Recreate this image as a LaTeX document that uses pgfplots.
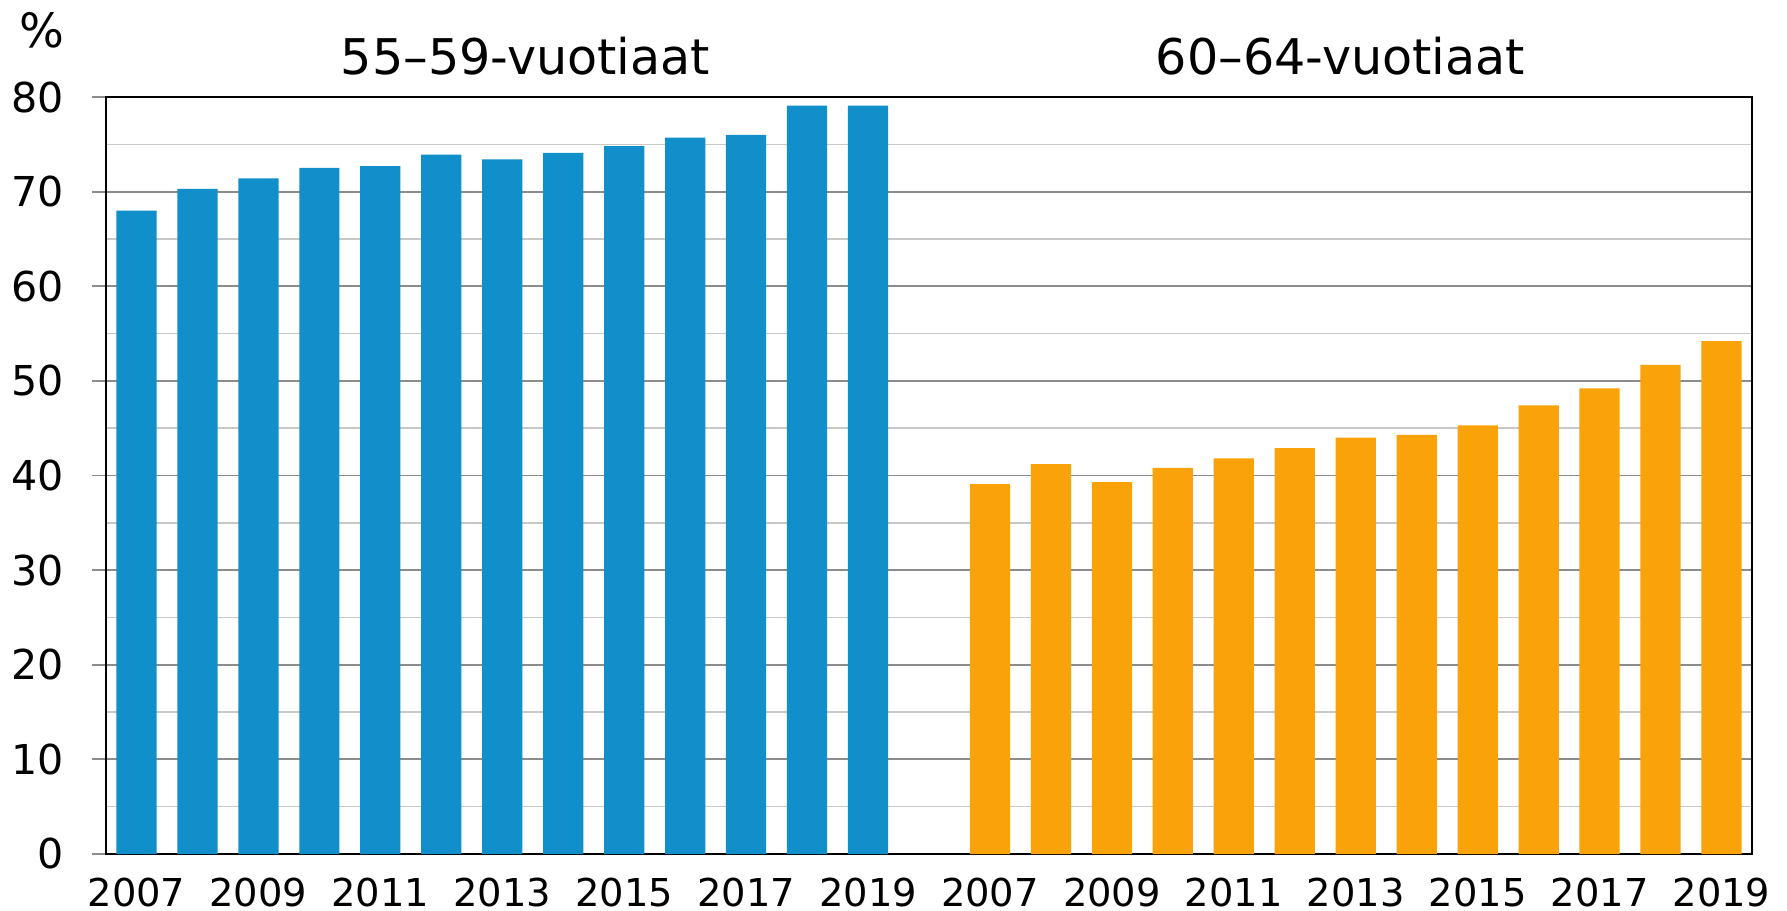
\documentclass[border=0pt]{standalone}
\usepackage{fontspec}
\setmainfont{DejaVu Sans}
\usepackage{pgfplots}
\pgfplotsset{compat=1.18}
\definecolor{barblue}{HTML}{108FCB}
\definecolor{barorange}{HTML}{F9A20A}
\definecolor{majgrid}{HTML}{8C8C8C}
\definecolor{mingrid}{HTML}{C8C8C8}
\begin{document}
\begin{tikzpicture}
\begin{axis}[
 name=ax, at={(0,0)}, anchor=south west,
 scale only axis, width=411.5pt, height=189.25pt,
 xmin=-0.5, xmax=26.5, ymin=0, ymax=80,
 /pgf/number format/assume math mode=true,
 ytick={0,10,20,30,40,50,60,70,80},
 minor ytick={5,15,25,35,45,55,65,75},
 ymajorgrids, yminorgrids,
 major grid style={majgrid, line width=0.45pt},
 minor grid style={mingrid, line width=0.4pt},
 xtick={0,2,4,6,8,10,12,14,16,18,20,22,24,26},
 xticklabels={2007,2009,2011,2013,2015,2017,2019,2007,2009,2011,2013,2015,2017,2019},
 x tick style={draw=none},
 ytick pos=left, ytick align=outside, major tick length=3.5pt, minor tick length=0pt,
 y tick style={majgrid, line width=0.45pt},
 xticklabel style={font=\fontsize{9.6}{11}\selectfont, yshift=-2.5pt},
 yticklabel style={font=\fontsize{10.3}{12}\selectfont, xshift=-3.5pt},
 axis line style={black, line width=0.6pt},
 clip=false,
]
\addplot[ybar, bar width=0.66, bar shift=0pt, fill=barblue, draw=none] coordinates {(0,68.0) (1,70.3) (2,71.4) (3,72.5) (4,72.7) (5,73.9) (6,73.4) (7,74.1) (8,74.8) (9,75.7) (10,76.0) (11,79.1) (12,79.1)};
\addplot[ybar, bar width=0.66, bar shift=0pt, fill=barorange, draw=none] coordinates {(14,39.1) (15,41.2) (16,39.3) (17,40.8) (18,41.8) (19,42.9) (20,44.0) (21,44.3) (22,45.3) (23,47.4) (24,49.2) (25,51.7) (26,54.2)};
\node[anchor=base, font=\fontsize{12.3}{14}\selectfont] at (rel axis cs:0.25,1) [xshift=2pt, yshift=5.75pt] {55–59-vuotiaat};
\node[anchor=base, font=\fontsize{11.8}{13}\selectfont] at (rel axis cs:0,1) [xshift=-16pt, yshift=12.5pt] {\%};
\node[anchor=base, font=\fontsize{12.3}{14}\selectfont] at (rel axis cs:0.75,1) [yshift=5.75pt] {60–64-vuotiaat};
\end{axis}
\pgfresetboundingbox
\path ([shift={(-26.5pt,-14pt)}]ax.south west) rectangle ([shift={(8.75pt,24.25pt)}]ax.north east);
\end{tikzpicture}
\end{document}
